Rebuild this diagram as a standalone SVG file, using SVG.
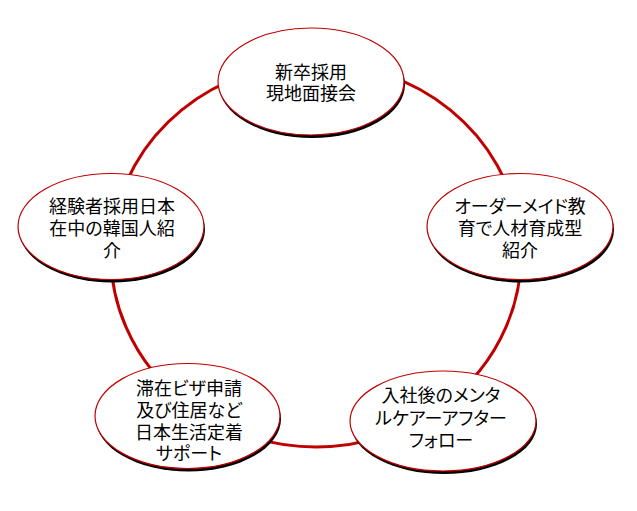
<svg xmlns="http://www.w3.org/2000/svg" width="637" height="511" viewBox="0 0 637 511">
<style>
.conn{fill:none;stroke:#c00000;stroke-width:3}
.shadow{fill:#000}
.node{fill:#fff;stroke:#c00000;stroke-width:1.2}
.lbl{font-family:"Noto Sans CJK JP","Noto Sans",sans-serif;font-size:18px;fill:#000;text-anchor:middle;font-feature-settings:"palt"}
</style>
<rect width="637" height="511" fill="#fff"/>
<g id="connectors">
<path class="conn" d="M316,63 A205,192 0 0 1 519,228.3"/>
<path class="conn" d="M519,228.3 A205,192 0 0 1 442.2,406.3"/>
<path class="conn" d="M442.2,406.3 A205,192 0 0 1 189.8,406.3"/>
<path class="conn" d="M189.8,406.3 A205,192 0 0 1 113,228.3"/>
<path class="conn" d="M113,228.3 A205,192 0 0 1 316,63"/>
</g>
<g id="node-top">
<ellipse class="shadow" cx="312" cy="84.5" rx="93" ry="53.5"/>
<ellipse class="node" cx="311" cy="81.5" rx="93" ry="53.5"/>
<text class="lbl" x="311"><tspan x="311" y="78.5">新卒採用</tspan><tspan x="311" y="100">現地面接会</tspan></text>
</g>
<g id="node-right">
<ellipse class="shadow" cx="521" cy="229.5" rx="93" ry="53"/>
<ellipse class="node" cx="520" cy="226.5" rx="93" ry="53"/>
<text class="lbl"><tspan x="520" y="213">オーダーメイド教</tspan><tspan x="520" y="235">育で人材育成型</tspan><tspan x="520" y="256.5">紹介</tspan></text>
</g>
<g id="node-bottom-right">
<ellipse class="shadow" cx="444" cy="424" rx="93" ry="50"/>
<ellipse class="node" cx="443" cy="421" rx="93" ry="50"/>
<text class="lbl"><tspan x="441" y="401.5">入社後のメンタ</tspan><tspan x="441" y="424.5">ルケアーアフター</tspan><tspan x="441" y="446.5">フォロー</tspan></text>
</g>
<g id="node-bottom-left">
<ellipse class="shadow" cx="188.5" cy="419" rx="92.5" ry="52.5"/>
<ellipse class="node" cx="187.5" cy="416" rx="92.5" ry="52.5"/>
<text class="lbl"><tspan x="189" y="394.5">滞在ビザ申請</tspan><tspan x="189" y="416.5">及び住居など</tspan><tspan x="189" y="438.5">日本生活定着</tspan><tspan x="189" y="459.5">サポート</tspan></text>
</g>
<g id="node-left">
<ellipse class="shadow" cx="112" cy="229.5" rx="93" ry="53"/>
<ellipse class="node" cx="111" cy="226.5" rx="93" ry="53"/>
<text class="lbl"><tspan x="112" y="213">経験者採用日本</tspan><tspan x="112" y="235">在中の韓国人紹</tspan><tspan x="112" y="256.5">介</tspan></text>
</g>
</svg>
